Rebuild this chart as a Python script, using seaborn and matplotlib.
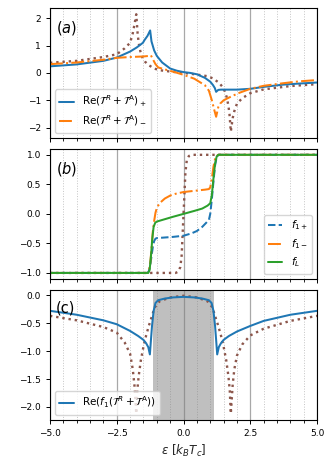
import matplotlib
matplotlib.use("Agg")
import matplotlib.pyplot as plt
import seaborn as sns
from matplotlib.ticker import MultipleLocator

# ---- panel (a): Re(T^R + T^A) for the two spin bands, BCS reference dotted
xa_plus = [-5.0, -4.0, -3.0, -2.5, -2.0, -1.75, -1.52, -1.46, -1.35, -1.25, -1.2, -1.1, -1.0,
           -0.8, -0.5, -0.25, 0.0, 0.25, 0.5, 0.8, 1.0, 1.1, 1.17, 1.22, 1.3, 1.4, 2.0, 2.5,
           3.0, 3.7, 4.3, 5.0]
ya_plus = [0.24, 0.31, 0.44, 0.56, 0.78, 0.93, 1.10, 1.20, 1.35, 1.55, 1.15, 0.82, 0.62,
           0.38, 0.16, 0.08, 0.03, 0.0, -0.05, -0.18, -0.32, -0.44, -0.55, -0.69, -0.62,
           -0.61, -0.61, -0.58, -0.51, -0.43, -0.39, -0.35]

xa_minus = [-5.0, -4.0, -3.0, -2.5, -2.0, -1.5, -1.3, -1.22, -1.15, -1.05, -0.95, -0.6, -0.3,
            0.0, 0.4, 0.8, 0.95, 1.06, 1.15, 1.22, 1.3, 1.37, 1.5, 1.7, 2.05, 2.5, 3.0, 3.7,
            4.3, 5.0]
ya_minus = [0.32, 0.38, 0.48, 0.55, 0.58, 0.60, 0.62, 0.64, 0.50, 0.32, 0.20, 0.10, 0.02,
            -0.07, -0.21, -0.45, -0.65, -1.0, -1.35, -1.60, -1.25, -1.12, -1.0, -0.90, -0.74,
            -0.58, -0.47, -0.38, -0.31, -0.26]

xa_bcs = [-5.0, -4.0, -3.0, -2.5, -2.2, -2.0, -1.9, -1.84, -1.77, -1.72, -1.68, -1.62, -1.55,
          -1.45, -1.33, -1.1, -0.9, -0.5, 0.0, 0.5, 0.9, 1.1, 1.33, 1.45, 1.55, 1.62, 1.68,
          1.72, 1.77, 1.84, 1.9, 2.0, 2.2, 2.5, 3.0, 4.0, 5.0]
ya_bcs = [0.37, 0.44, 0.58, 0.68, 0.90, 1.10, 1.45, 1.75, 2.14, 1.45, 1.10, 0.80, 0.58,
          0.42, 0.30, 0.16, 0.10, 0.05, 0.0, -0.06, -0.12, -0.20, -0.36, -0.50, -0.68, -0.90,
          -1.20, -1.50, -2.14, -1.65, -1.40, -1.12, -0.92, -0.74, -0.60, -0.48, -0.41]

# ---- panel (b): distribution functions
xb_f1p = [-5.0, -1.35, -1.3, -1.25, -1.2, -1.15, -1.1, -1.05, -1.0, -0.7, -0.4, 0.0, 0.3, 0.5,
          0.7, 0.85, 0.95, 1.0, 1.06, 1.12, 1.18, 1.24, 1.3, 5.0]
yb_f1p = [-1.0, -1.0, -0.97, -0.88, -0.72, -0.56, -0.46, -0.42, -0.41, -0.40, -0.39, -0.37,
          -0.33, -0.29, -0.22, -0.15, -0.10, 0.0, 0.25, 0.55, 0.82, 0.96, 1.0, 1.0]

xb_f1m = [-5.0, -1.35, -1.3, -1.25, -1.2, -1.15, -1.1, -1.05, -1.0, -0.95, -0.85, -0.7, -0.5,
          -0.3, 0.0, 0.4, 0.8, 0.95, 1.0, 1.06, 1.12, 1.18, 1.24, 1.3, 5.0]
yb_f1m = [-1.0, -1.0, -0.97, -0.85, -0.6, -0.3, -0.12, 0.02, 0.1, 0.14, 0.2, 0.26, 0.31,
          0.34, 0.37, 0.39, 0.41, 0.42, 0.45, 0.6, 0.8, 0.93, 0.98, 1.0, 1.0]

xb_fl = [-5.0, -1.32, -1.27, -1.22, -1.17, -1.12, -1.06, -1.0, -0.7, -0.4, 0.0, 0.4, 0.7, 0.9,
         1.0, 1.06, 1.12, 1.18, 1.24, 1.3, 5.0]
yb_fl = [-1.0, -1.0, -0.95, -0.72, -0.42, -0.22, -0.15, -0.13, -0.09, -0.05, 0.0, 0.05, 0.09,
         0.14, 0.18, 0.32, 0.6, 0.85, 0.97, 1.0, 1.0]

xb_bcs = [-5.0, -0.3, -0.2, -0.12, -0.07, -0.04, 0.0, 0.04, 0.07, 0.12, 0.2, 0.3, 5.0]
yb_bcs = [-1.0, -1.0, -0.98, -0.9, -0.7, -0.4, 0.0, 0.4, 0.7, 0.9, 0.98, 1.0, 1.0]

# ---- panel (c): Re(f_1 (T^R + T^A))
xc_f1 = [-5.0, -4.0, -3.0, -2.5, -2.0, -1.7, -1.5, -1.4, -1.32, -1.26, -1.22, -1.18, -1.12,
         -1.05, -0.95, -0.7, -0.4, 0.0, 0.4, 0.7, 0.95, 1.05, 1.12, 1.18, 1.22, 1.26, 1.32,
         1.4, 1.5, 1.7, 2.0, 2.5, 3.0, 4.0, 5.0]
yc_f1 = [-0.28, -0.35, -0.45, -0.52, -0.64, -0.73, -0.80, -0.86, -0.93, -1.06, -0.80, -0.55,
         -0.28, -0.14, -0.09, -0.06, -0.04, -0.03, -0.04, -0.06, -0.09, -0.14, -0.28, -0.55,
         -0.80, -1.06, -0.93, -0.86, -0.80, -0.73, -0.65, -0.55, -0.46, -0.35, -0.28]

xc_bcs = [-5.0, -4.0, -3.0, -2.5, -2.2, -2.0, -1.9, -1.84, -1.77, -1.73, -1.68, -1.6, -1.5,
          -1.4, -1.3, -1.2, -1.08, -0.9, -0.5, 0.0, 0.5, 0.9, 1.08, 1.2, 1.3, 1.4, 1.5, 1.6,
          1.68, 1.73, 1.77, 1.84, 1.9, 2.0, 2.2, 2.5, 3.0, 4.0, 5.0]
yc_bcs = [-0.37, -0.45, -0.57, -0.67, -0.85, -1.05, -1.33, -1.60, -2.12, -1.70, -1.45, -1.17,
          -0.92, -0.72, -0.55, -0.40, -0.22, -0.11, -0.04, -0.01, -0.04, -0.11, -0.22, -0.40,
          -0.55, -0.72, -0.92, -1.17, -1.45, -1.70, -2.12, -1.60, -1.33, -1.08, -0.88, -0.72,
          -0.60, -0.46, -0.37]

gap_edge = 1.13

blue, orange, green, brown = "tab:blue", "tab:orange", "tab:green", "tab:brown"

sns.set_style("ticks")
plt.rcParams.update({
    "font.family": "DejaVu Sans",
    "font.size": 8.6,
    "xtick.labelsize": 6.5,
    "ytick.labelsize": 6.5,
    "legend.fontsize": 7.5,
    "legend.handlelength": 1.4,
    "legend.labelspacing": 0.45,
    "axes.edgecolor": "black",
    "text.color": "black",
    "xtick.color": "black",
    "ytick.color": "black",
    "xtick.major.size": 3,
    "ytick.major.size": 3,
    "xtick.minor.size": 1.8,
    "xtick.major.width": 0.7,
    "ytick.major.width": 0.7,
    "xtick.minor.width": 0.6,
    "axes.linewidth": 0.8,
})

fig, axes = plt.subplots(3, 1, figsize=(3.31, 4.68), dpi=100, sharex=True)
fig.subplots_adjust(left=0.151, right=0.958, top=0.983, bottom=0.103, hspace=0.085)
ax_a, ax_b, ax_c = axes

lw = 1.45
sns.lineplot(x=xa_bcs, y=ya_bcs, ax=ax_a, color=brown, linestyle=":", lw=1.7, estimator=None)
sns.lineplot(x=xa_plus, y=ya_plus, ax=ax_a, color=blue, lw=lw, estimator=None,
             label=r"$\mathrm{Re}(\mathcal{T}^R + \mathcal{T}^\mathrm{A})_+$")
sns.lineplot(x=xa_minus, y=ya_minus, ax=ax_a, color=orange, linestyle="-.", lw=lw,
             estimator=None, label=r"$\mathrm{Re}(\mathcal{T}^R + \mathcal{T}^\mathrm{A})_-$")

sns.lineplot(x=xb_bcs, y=yb_bcs, ax=ax_b, color=brown, linestyle=":", lw=1.7, estimator=None)
sns.lineplot(x=xb_f1p, y=yb_f1p, ax=ax_b, color=blue, linestyle="--", lw=lw, estimator=None,
             label=r"$f_{1+}$")
sns.lineplot(x=xb_f1m, y=yb_f1m, ax=ax_b, color=orange, linestyle="-.", lw=lw, estimator=None,
             label=r"$f_{1-}$")
sns.lineplot(x=xb_fl, y=yb_fl, ax=ax_b, color=green, lw=lw, estimator=None, label=r"$f_L$")

ax_c.axvspan(-gap_edge, gap_edge, color="grey", alpha=0.5, lw=0)
sns.lineplot(x=xc_bcs, y=yc_bcs, ax=ax_c, color=brown, linestyle=":", lw=1.7, estimator=None)
sns.lineplot(x=xc_f1, y=yc_f1, ax=ax_c, color=blue, lw=lw, estimator=None,
             label=r"$\mathrm{Re}(f_1(\mathcal{T}^R + \mathcal{T}^\mathrm{A}))$")

ax_a.set_ylim(-2.37, 2.37)
ax_a.set_yticks([-2, -1, 0, 1, 2])
ax_b.set_ylim(-1.1, 1.1)
ax_b.set_yticks([-1.0, -0.5, 0.0, 0.5, 1.0])
ax_c.set_ylim(-2.23, 0.095)
ax_c.set_yticks([-2.0, -1.5, -1.0, -0.5, 0.0])

for ax, tag in zip(axes, ["$(a)$", "$(b)$", "(c)"]):
    ax.set_xlim(-5, 5)
    ax.xaxis.set_major_locator(MultipleLocator(2.5))
    ax.xaxis.set_minor_locator(MultipleLocator(0.5))
    ax.grid(True, axis="x", which="major", color="#a8a8a8", lw=0.9, ls="-")
    ax.grid(True, axis="x", which="minor", color="#c4c4c4", lw=0.7, ls=":")
    ax.text(0.022, 0.915, tag, transform=ax.transAxes, fontsize=10.5, va="top", ha="left")
    ax.set_ylabel("")

ax_a.legend(loc="lower left")
ax_b.legend(loc="lower right")
ax_c.legend(loc="lower left")

ax_c.set_xticks([-5.0, -2.5, 0.0, 2.5, 5.0])
ax_c.set_xticklabels(["\u22125.0", "\u22122.5", "0.0", "2.5", "5.0"])
ax_c.set_xlabel(r"$\varepsilon$ $[k_BT_c]$")

fig.savefig("out.png", dpi=100)
